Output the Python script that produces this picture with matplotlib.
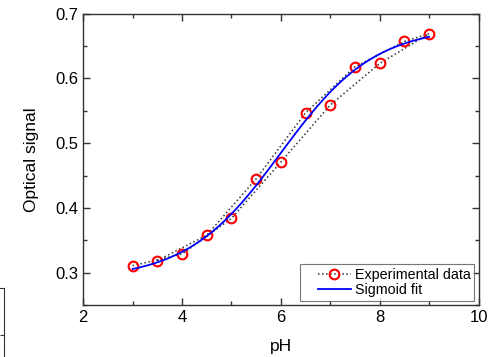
import matplotlib.pyplot as plt
import numpy as np
from matplotlib.ticker import MultipleLocator
from matplotlib.legend_handler import HandlerLine2D

plt.rcParams['font.family'] = ['Liberation Sans', 'DejaVu Sans']

# experimental data, in measurement order (odd steps up, half steps back down)
ph = [3, 4, 5, 6, 7, 8, 9, 8.5, 7.5, 6.5, 5.5, 4.5, 3.5]
signal = [0.311, 0.329, 0.384, 0.471, 0.559, 0.623, 0.669,
          0.657, 0.618, 0.547, 0.445, 0.358, 0.319]

# Boltzmann sigmoid fit parameters
A1 = 0.29
A2 = 0.68
x0 = 6.0
dx = 0.95

fig = plt.figure(figsize=(4.98, 3.57), dpi=100)
ax = fig.add_axes([0.167, 0.145, 0.794, 0.817])

l1, = ax.plot(ph, signal, ':', color='#333333', lw=1.1, marker='o', ms=7,
              mfc='none', mec='red', mew=1.5, label='Experimental data')

xf = np.linspace(3, 9, 200)
yf = A2 + (A1 - A2) / (1 + np.exp((xf - x0) / dx))
l2, = ax.plot(xf, yf, '-', color='blue', lw=1.3, label='Sigmoid fit')

ax.set_xlim(2, 10)
ax.set_ylim(0.25, 0.7)
ax.xaxis.set_major_locator(MultipleLocator(2))
ax.xaxis.set_minor_locator(MultipleLocator(1))
ax.yaxis.set_major_locator(MultipleLocator(0.1))
ax.yaxis.set_minor_locator(MultipleLocator(0.05))
ax.set_yticks([0.3, 0.4, 0.5, 0.6, 0.7])
ax.tick_params(which='both', direction='in', top=True, right=True,
               labelsize=12, color='#333333', width=1)
ax.tick_params(which='major', length=5)
ax.tick_params(which='minor', length=3)
for s in ax.spines.values():
    s.set_color('#333333')
    s.set_linewidth(1)

ax.set_xlabel('pH', fontsize=12.5, labelpad=10)
ax.set_ylabel('Optical signal', fontsize=12.5, labelpad=12)

hm = {l1: HandlerLine2D(xpad=1.0), l2: HandlerLine2D(xpad=1.0)}
leg = ax.legend(loc='lower right', fontsize=10.3, frameon=True, fancybox=False,
                edgecolor='#555555', borderpad=0.25, handlelength=3.3,
                handletextpad=0.3, labelspacing=0.1, borderaxespad=0.3,
                handler_map=hm)
leg.get_frame().set_linewidth(0.8)

# fragment of a neighbouring panel at the bottom-left edge
ax2 = fig.add_axes([-0.05, -0.1, 0.0587, 0.294])
ax2.set_xticks([])
ax2.set_yticks([0.55])
ax2.set_ylim(0, 1)
ax2.tick_params(axis='y', direction='in', left=False, right=True,
                labelleft=False, length=3, color='#333333')
ax2.spines['left'].set_visible(False)
ax2.spines['bottom'].set_visible(False)
for s in ax2.spines.values():
    s.set_color('#333333')

fig.savefig('out.png', dpi=100)
